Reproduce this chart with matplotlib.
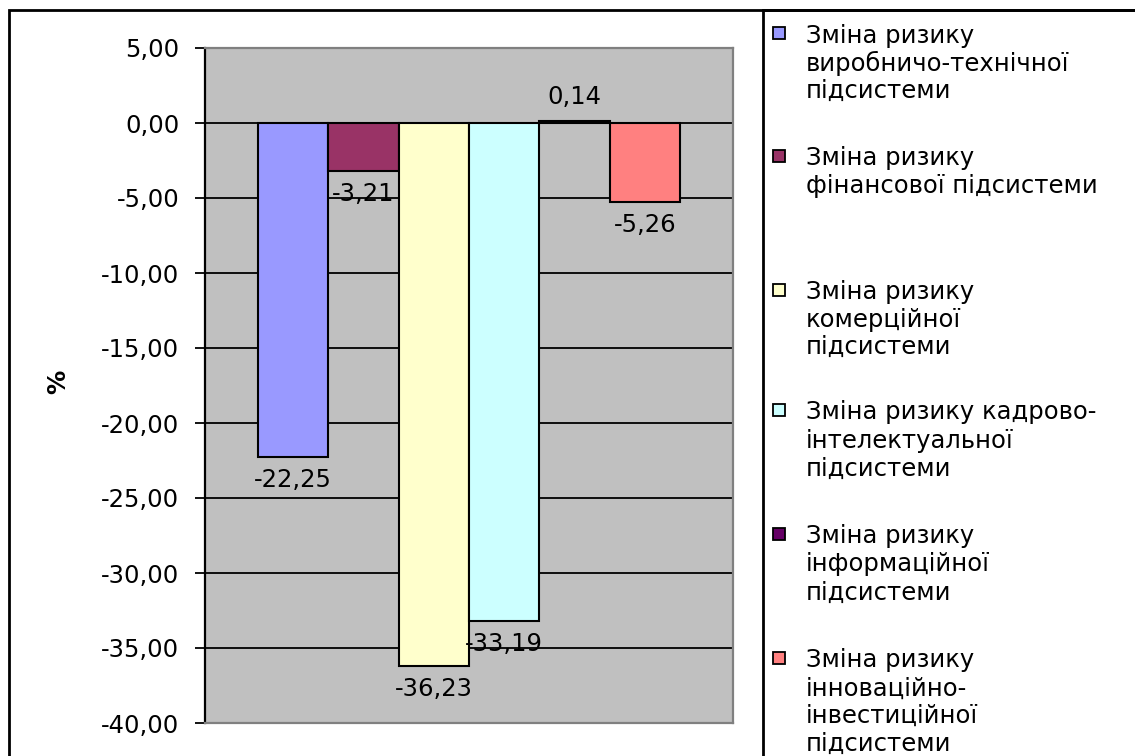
import matplotlib
matplotlib.use("Agg")
import matplotlib.pyplot as plt
from matplotlib.patches import Rectangle

# Series values (% change of risk per subsystem)
series_names = [
    ["Зміна ризику", "виробничо-технічної", "підсистеми"],
    ["Зміна ризику", "фінансової підсистеми"],
    ["Зміна ризику", "комерційної", "підсистеми"],
    ["Зміна ризику кадрово-", "інтелектуальної", "підсистеми"],
    ["Зміна ризику", "інформаційної", "підсистеми"],
    ["Зміна ризику", "інноваційно-", "інвестиційної", "підсистеми"],
]
values = [-22.25, -3.21, -36.23, -33.19, 0.14, -5.26]
colors = ["#9999FF", "#993366", "#FFFFCC", "#CCFFFF", "#660066", "#FF8080"]
y_ticks = [5, 0, -5, -10, -15, -20, -25, -30, -35, -40]

W, H = 1135, 756
FONT = "DejaVu Sans"
FS = 17.5

fig = plt.figure(figsize=(W / 100, H / 100), dpi=100)
fig.patch.set_facecolor("white")


def fx(px):
    return px / W


def fy(py):
    return 1 - py / H


# Chart frame and legend frame (run off the canvas at right/bottom)
fig.add_artist(Rectangle((fx(9), fy(770)), fx(1200), 760 / H, transform=fig.transFigure,
                         facecolor="none", edgecolor="black", linewidth=2, zorder=0))
fig.add_artist(Rectangle((fx(763), fy(770)), fx(600), 760 / H, transform=fig.transFigure,
                         facecolor="none", edgecolor="black", linewidth=2, zorder=0))

# Plot area
ax = fig.add_axes([fx(205), fy(723), fx(733 - 205), (723 - 48) / H])
ax.set_facecolor("#C0C0C0")
ax.set_xlim(0, 7.5)
ax.set_ylim(-40, 5)
ax.set_yticks(y_ticks)
ax.set_yticklabels([f"{t:.2f}".replace(".", ",") for t in y_ticks],
                   fontsize=FS, family=FONT)
ax.set_xticks([])
ax.yaxis.grid(True, color="black", linewidth=1.3)
ax.set_axisbelow(True)
ax.tick_params(axis="y", direction="out", length=7.5, width=1.3, pad=11, colors="black")
ax.spines["left"].set_color("black")
ax.spines["left"].set_linewidth(1.6)
for s in ("top", "right", "bottom"):
    ax.spines[s].set_color("#808080")
    ax.spines[s].set_linewidth(1.6)

xs = [1.25 + i for i in range(len(values))]
bars = ax.bar(xs, values, width=1.0, color=colors, edgecolor="black",
              linewidth=1.5, zorder=3)

for x, v in zip(xs, values):
    off = 24 if v >= 0 else -23
    ax.annotate(f"{v:.2f}".replace(".", ","), (x, v), xytext=(0, off),
                textcoords="offset pixels", ha="center", va="center",
                fontsize=FS, family=FONT, zorder=5)

fig.text(fx(58), fy(382), "%", rotation=90, ha="center", va="center",
         fontsize=FS, fontweight="bold", family=FONT)

# Legend entries
entry_lines_y = [
    [33, 61, 88],
    [156, 183],
    [290, 317, 344],
    [410, 438, 466],
    [534, 562, 590],
    [658, 686, 713, 741],
]
for lines, ys, c in zip(series_names, entry_lines_y, colors):
    sq = 12
    fig.add_artist(Rectangle((fx(773), fy(ys[0] + sq / 2)), fx(sq), sq / H,
                             transform=fig.transFigure, facecolor=c,
                             edgecolor="black", linewidth=1.3))
    for line, y in zip(lines, ys):
        fig.text(fx(806), fy(y), line, ha="left", va="center_baseline",
                 fontsize=FS, family=FONT)

fig.savefig("out.png", dpi=100)
